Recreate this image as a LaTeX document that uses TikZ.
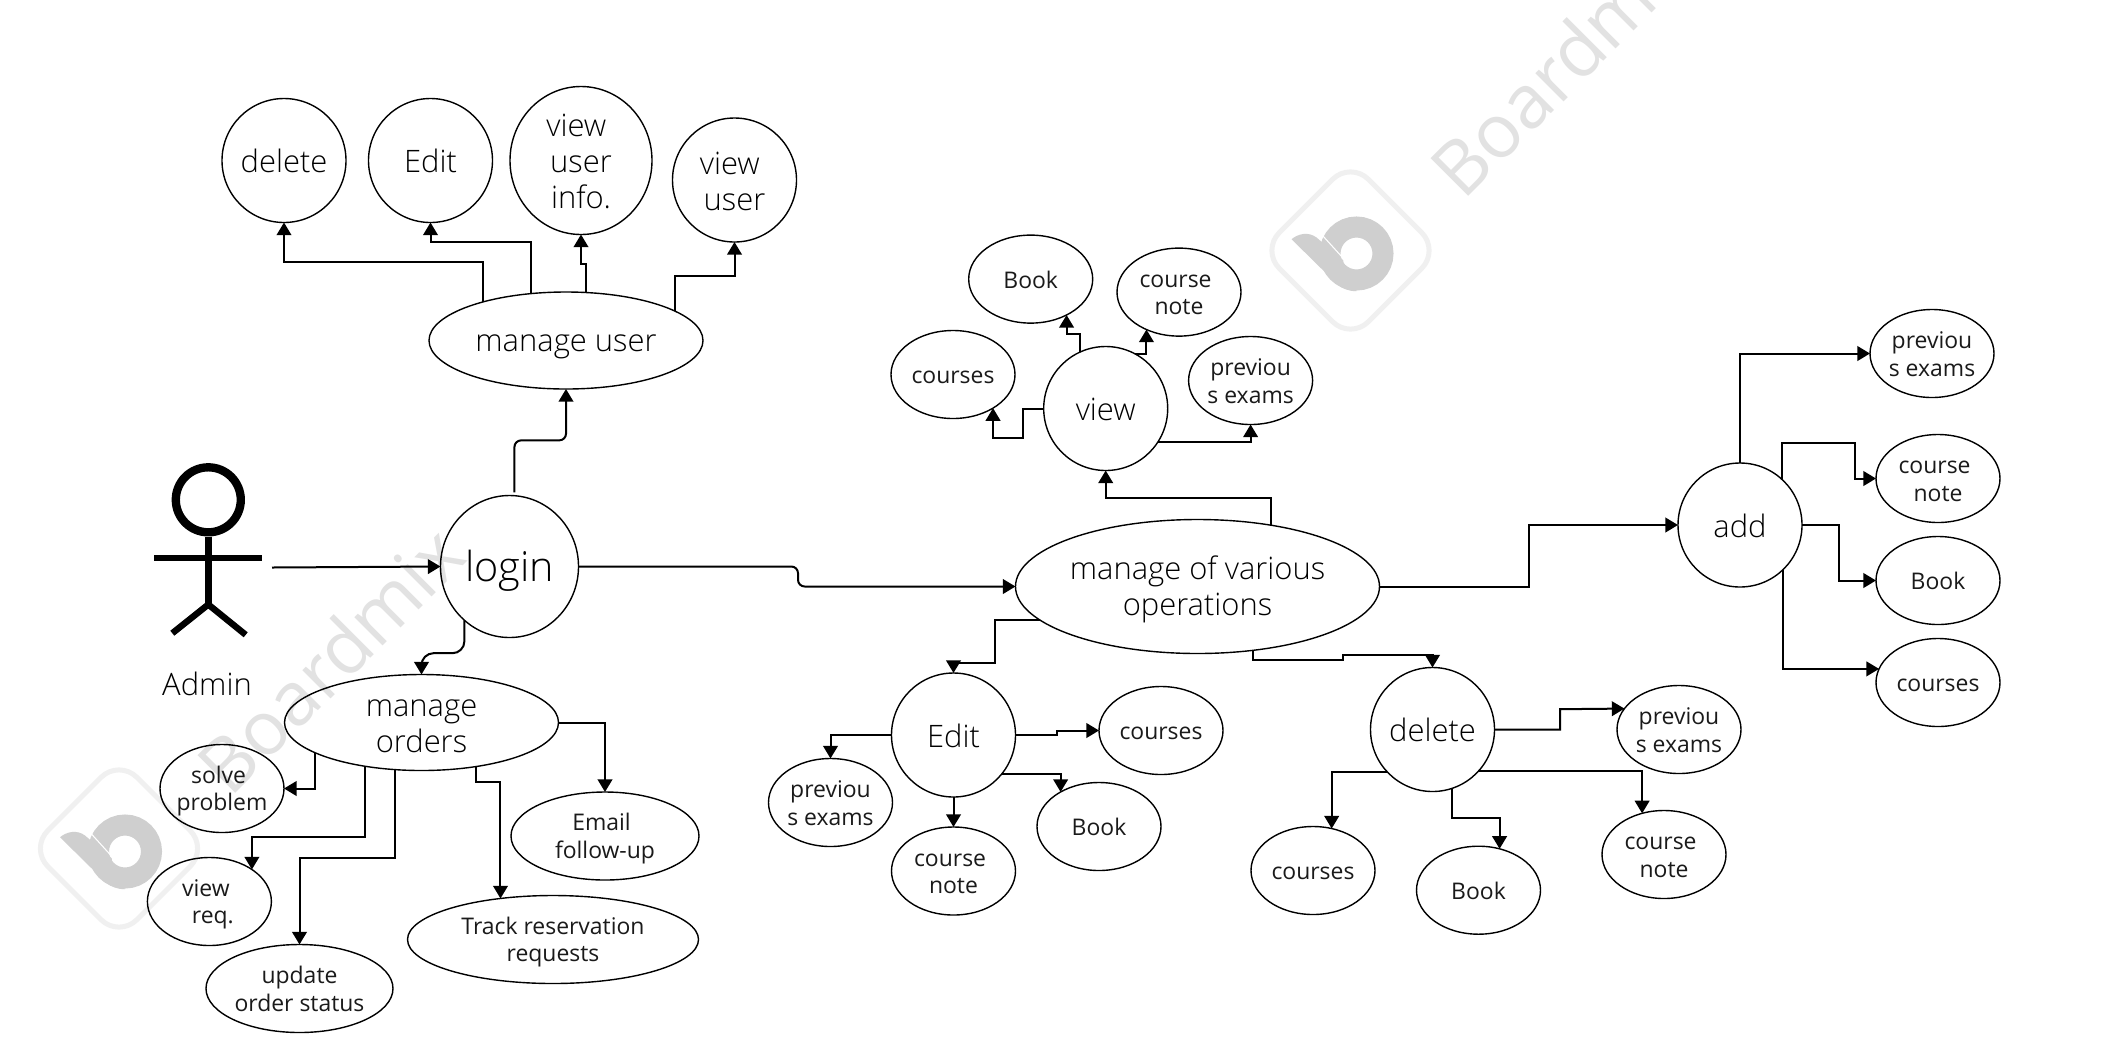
\documentclass[tikz,border=0pt]{standalone}
\usepackage{fontspec}
\setmainfont{Open Sans}
\newfontfamily\lightf{Open Sans Light}
\usetikzlibrary{shapes.geometric,arrows.meta}
\definecolor{inkc}{HTML}{000000}
\definecolor{txtc}{HTML}{1A1A1A}
\definecolor{wmtext}{HTML}{E2E2E2}
\definecolor{wmb}{HTML}{CFCFCF}
\definecolor{wmbox}{HTML}{F0F0F0}
\newcommand{\topfix}{\rule{0pt}{.98em}}
\newcommand{\padsp}{\hspace*{.3em}}
\tikzset{
  ell/.style n args={2}{ellipse,draw=inkc,line width=1.05pt,inner sep=-22pt,outer sep=0pt,
     minimum width=#1*0.75pt,minimum height=#2*0.75pt,align=center,text=txtc,
     execute at begin node={\rule{0pt}{.98em}},execute at end node={\rule[-.2em]{0pt}{.2em}}},
  bigt/.style={text=black,font=\lightf\fontsize{23.2}{27}\selectfont},
  smallt/.style={font=\fontsize{17.2}{20.5}\selectfont},
  small/.style={ell={124}{88},smallt},
  circ/.style={ell={124}{124},bigt},
  conn/.style={draw=inkc,line width=1.5pt,-{Triangle[length=9.5pt,width=11pt]},line join=miter},
  actorline/.style={draw=black,line width=4.8pt},
  wmtxt/.style={text=wmtext,rotate=45,font=\fontsize{56}{60}\selectfont},
}
\newcommand{\wmlogo}[2]{%
  \begin{scope}[shift={(#1,#2)}]
    \draw[wmbox,line width=3.75pt,rounded corners=19pt,rotate=45] (-63,-63) rectangle (63,63);
    \draw[wmb,line width=15.75pt] (6,3) circle (26.5);
    \fill[wmb] (-59,-11.3) .. controls (-52,-17) and (-42,-19) .. (-34,-13) -- (-7.3,9.7)
       .. controls (-6,25) and (0,30) .. (6,40.7) .. controls (-2,40.7) and (-8,38) .. (-12.3,34.7) -- cycle;
    \draw[white,line width=0.8pt] (-28,-15) -- (-8,7);
  \end{scope}}
\begin{document}
\begin{tikzpicture}[x=0.75pt,y=-0.75pt]
\useasboundingbox (0,-0.5) rectangle (2121,1039.5);
\fill[white] (0,-0.5) rectangle (2121,1039.5);
% watermarks
\wmlogo{119}{848}
\wmlogo{1350.5}{250}
\node[wmtxt] (wmA) at (330,659) {Boardmix};
\node[wmtxt] (wmB) at (1563,62) {Boardmix};
% actor
\draw[actorline,line width=6.25pt] (208.3,499.3) circle (32.5);
\draw[actorline] (208.3,536) -- (208.3,604);
\draw[actorline] (154.3,557.7) -- (262,557.7);
\draw[actorline] (172.3,632.7) -- (208.3,604) -- (245.7,634.3);
\coordinate (hand) at (272,567);
\node[bigt] (admin) at (207,683) {Admin};
% main nodes
\node[ell={138}{142},text=black,font=\lightf\fontsize{31}{34}\selectfont] (login) at (509.5,566) {login};
\node[ell={274}{97},bigt] (mu) at (566,340) {manage user};
\node[ell={274}{96},bigt] (mo) at (421.5,722) {\topfix manage\\orders};
\node[ell={364}{134},bigt] (op) at (1197.5,586) {\topfix manage of various\\operations};
% manage user children
\node[circ] (ud) at (284,160) {delete};
\node[circ] (ue) at (430.5,160) {Edit};
\node[ell={142}{148},bigt] (ui) at (581,160) {\topfix view\padsp\\user\padsp\\info.};
\node[circ] (uv) at (734.5,179.5) {\topfix view\padsp\\user};
% manage orders children
\node[small] (os) at (222,788) {\topfix solve\padsp\\problem};
\node[small] (ov) at (209.4,901) {\topfix view\padsp\\\padsp req.};
\node[ell={187}{88},smallt] (ou) at (299.5,988) {\topfix update\\order status};
\node[ell={291}{88},smallt] (ot) at (553,939) {\topfix Track reservation\\requests};
\node[ell={188}{88},smallt] (oe) at (605,835.5) {\topfix Email\padsp\\follow-up};
% view
\node[circ] (vw) at (1105.7,408) {view};
\node[small] (vb) at (1030.7,278.6) {Book};
\node[small] (vn) at (1179,291.6) {\topfix course\padsp\\note};
\node[small] (vc) at (953,374) {courses};
\node[small] (vp) at (1250.6,380) {\topfix previou\\s exams};
% edit
\node[circ] (ed) at (953.5,734.5) {Edit};
\node[small] (ec) at (1161,730) {courses};
\node[small] (ep) at (830.5,802) {\topfix previou\\s exams};
\node[small] (eb) at (1099,826) {Book};
\node[small] (en) at (953.5,870.5) {\topfix course\padsp\\note};
% delete
\node[circ] (dl) at (1432.5,729) {delete};
\node[small] (dp) at (1679,729) {\topfix previou\\s exams};
\node[small] (dc) at (1313,870) {courses};
\node[small] (db) at (1478.5,889.7) {Book};
\node[small] (dn) at (1664,854) {\topfix course\padsp\\note};
% add
\node[circ] (ad) at (1740,524.5) {add};
\node[small] (ap) at (1932,353) {\topfix previou\\s exams};
\node[small] (an) at (1938,478) {\topfix course\padsp\\note};
\node[small] (ab) at (1938,580) {Book};
\node[small] (ac) at (1938,682) {courses};
% connectors: login
\draw[conn] (hand) -- (login.west);
\draw[conn,rounded corners=5pt] ([yshift=2.5pt]login.86) -- ++(0,-52) -| (mu.south);
\draw[conn,rounded corners=9pt] (login.230.1) -- (login.230.1 |- 0,652.7) -| (mo.north);
\draw[conn,rounded corners=5pt] (login.east) -| (798,586) -- (op.west);
% manage user
\draw[conn] (mu.155.1) -- (mu.155.1 |- 0,261.4) -| (ud.south);
\draw[conn] (mu.127.9) -- (mu.127.9 |- 0,241) -| (ue.south);
\draw[conn] (mu.67.4) -- (mu.67.4 |- 0,263) -| (ui.south);
\draw[conn] (mu.15.8) -- (mu.15.8 |- 0,275) -| (uv.south);
% manage orders
\draw[conn] (mo.196.2) |- (os.east);
\draw[conn] (mo.218.1) -- (mo.218.1 |- 0,836) -| (ov.37.6);
\draw[conn] (mo.241.2) -- (mo.241.2 |- 0,857) -| (ou.north);
\draw[conn] (mo.-39.2) -- (mo.-39.2 |- 0,781) -| (ot.142.3);
\draw[conn] (mo.east) -| (oe.north);
% operations
\draw[conn] (op.40.9) -- (op.40.9 |- 0,497) -| (vw.south);
\draw[conn] (op.192.8) -| (995,662) -| (ed.north);
\draw[conn] (op.-49) |- (1343,659) -- (1343,654) -| (dl.north);
\draw[conn] (op.east) -| (1529,524.5) -- (ad.west);
% view
\draw[conn] (vw.west) -| (1022.8,437.8) -| (vc.-40);
\draw[conn] (vw.115.5) -- (vw.115.5 |- 0,333.7) -| (vb.-45.7);
\draw[conn] (vw.62.9) -| (vn.229.3);
\draw[conn] (vw.-33.5) -| (vp.south);
% edit
\draw[conn] (ed.east) -| (1056.6,730) -- (ec.west);
\draw[conn] (ed.west) -| (ep.north);
\draw[conn] (ed.south) -- (en.north);
\draw[conn] (ed.-39.4) -| (eb.138.8);
% delete
\draw[conn] (dl.east) -| (1560,708.7) -- (dp.159.7);
\draw[conn] (dl.223.6) -| (dc.66.8);
\draw[conn] (dl.-72.5) -- (dl.-72.5 |- 0,817.7) -| (db.63.7);
\draw[conn] (dl.-42.3) -| (dn.118.2);
% add
\draw[conn] (ad.north) |- (ap.west);
\draw[conn] (ad.47.4) -- (ad.47.4 |- 0,442) -| (1855,478) -- (an.west);
\draw[conn] (ad.east) -| (1839,580) -- (ab.west);
\draw[conn] (ad.-46.1) |- (ac.167.1);
\end{tikzpicture}
\end{document}
